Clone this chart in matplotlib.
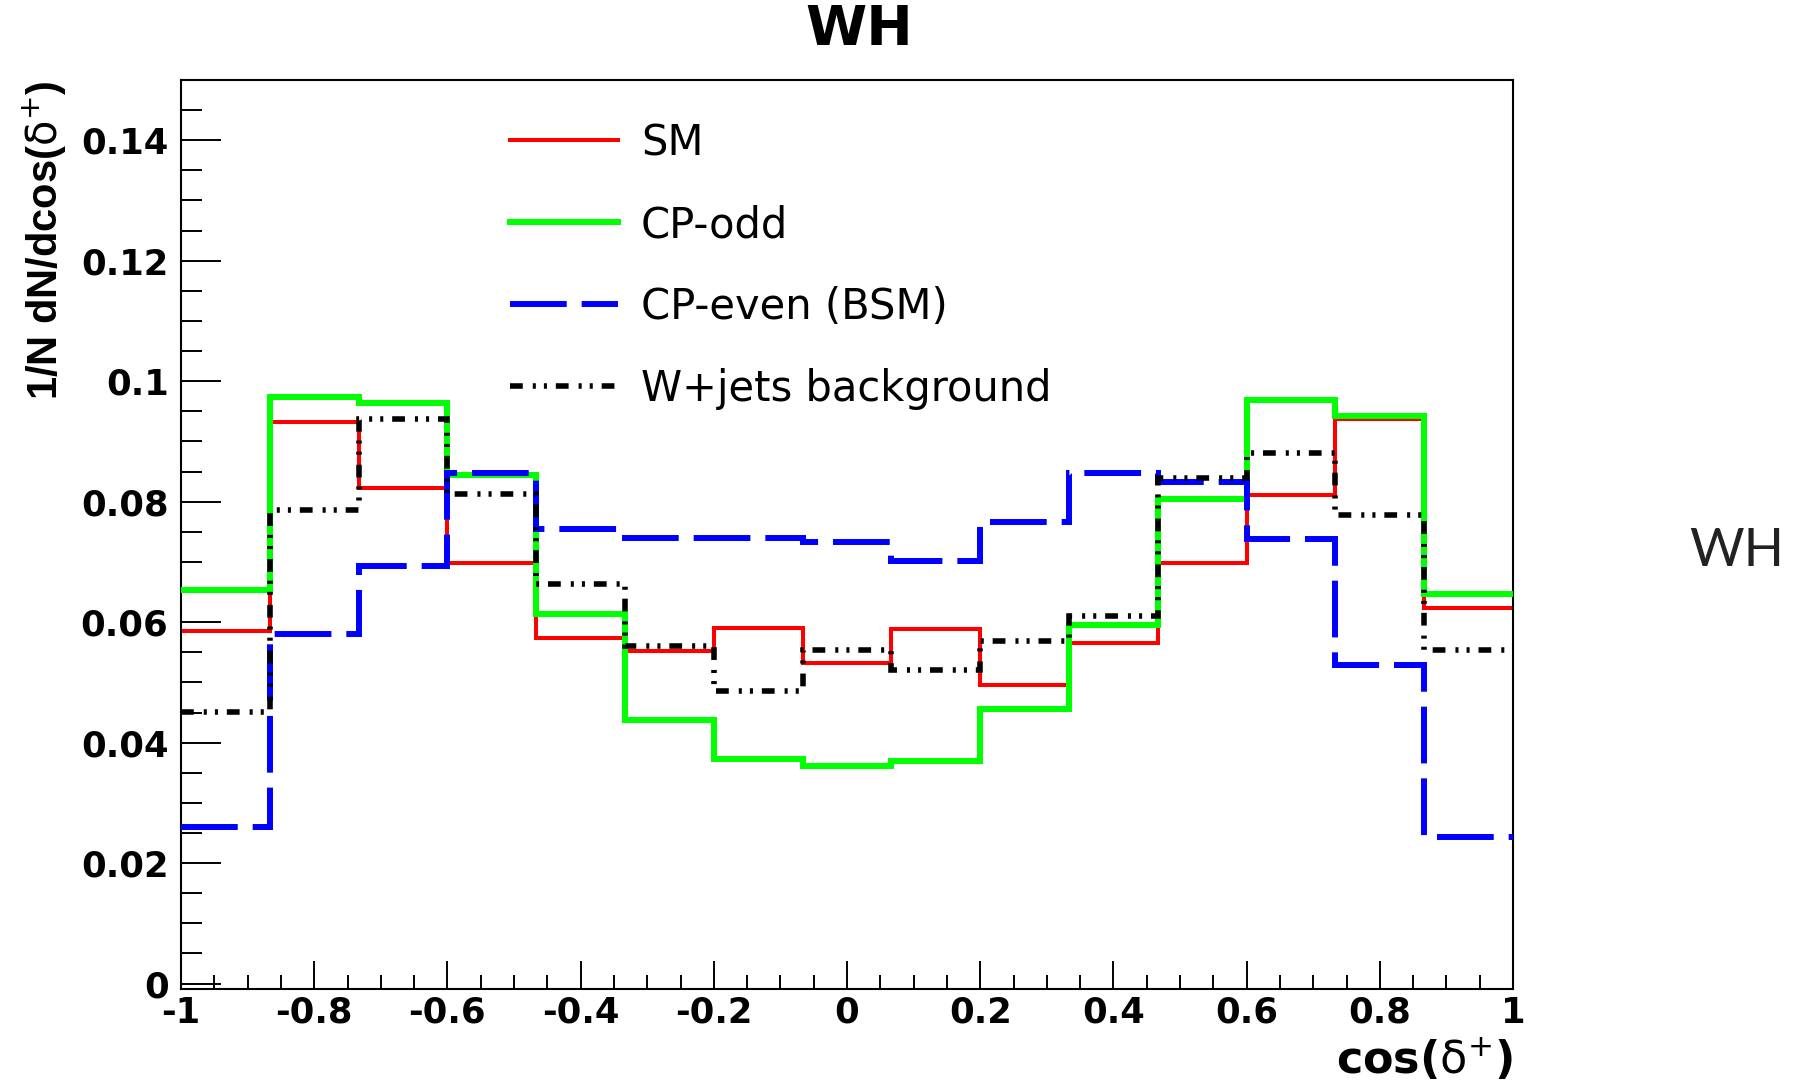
import matplotlib
matplotlib.use("Agg")
import matplotlib.pyplot as plt
import numpy as np
from matplotlib.ticker import MultipleLocator, FuncFormatter

plt.rcParams['font.family'] = ['DejaVu Sans']
plt.rcParams['mathtext.fontset'] = 'custom'
plt.rcParams['mathtext.rm'] = 'DejaVu Sans'
plt.rcParams['mathtext.bf'] = 'DejaVu Sans:bold'

# 15 bins in cos(delta+) from -1 to 1
edges = np.linspace(-1, 1, 16)

sm = [0.0585, 0.0932, 0.0823, 0.0699, 0.0573, 0.0552, 0.0590, 0.0532,
      0.0589, 0.0495, 0.0566, 0.0699, 0.0811, 0.0938, 0.0623]
cp_odd = [0.0654, 0.0973, 0.0964, 0.0845, 0.0614, 0.0438, 0.0373, 0.0362,
          0.0369, 0.0456, 0.0595, 0.0804, 0.0969, 0.0942, 0.0647]
cp_even = [0.0260, 0.0581, 0.0694, 0.0848, 0.0754, 0.0740, 0.0740, 0.0733,
           0.0701, 0.0766, 0.0847, 0.0833, 0.0738, 0.0529, 0.0244]
wjets = [0.0451, 0.0787, 0.0938, 0.0812, 0.0664, 0.0561, 0.0485, 0.0553,
         0.0521, 0.0568, 0.0610, 0.0840, 0.0881, 0.0778, 0.0553]

labels = ['SM', 'CP-odd', 'CP-even (BSM)', 'W+jets background']

fig = plt.figure(figsize=(18.05, 10.86), dpi=100)
ax = fig.add_axes([181 / 1805, 1 - 989 / 1086, 1332 / 1805, 909 / 1086])

ax.stairs(sm, edges, baseline=None, color='#ff0000', lw=2.9, zorder=2, label=labels[0])
ax.stairs(cp_odd, edges, baseline=None, color='#00ff00', lw=4.3, zorder=3, label=labels[1])
ax.stairs(cp_even, edges, baseline=None, color='#0000ff', lw=4.3, zorder=4,
          linestyle=(0, (9.5, 2.5)), label=labels[2])
ax.stairs(wjets, edges, baseline=None, color='black', lw=4.0, zorder=5,
          linestyle=(0, (2.3, 1.8, 0.55, 1.45, 0.55, 1.6)), label=labels[3])

ax.set_xlim(-1, 1)
ax.set_ylim(-0.0009, 0.15)

ax.xaxis.set_major_locator(MultipleLocator(0.2))
ax.xaxis.set_minor_locator(MultipleLocator(0.05))
ax.yaxis.set_major_locator(MultipleLocator(0.02))
ax.yaxis.set_minor_locator(MultipleLocator(0.005))

fmt = FuncFormatter(lambda v, p: '%g' % round(v, 3) if abs(v) > 1e-9 else '0')
ax.xaxis.set_major_formatter(fmt)
ax.yaxis.set_major_formatter(fmt)

ax.tick_params(which='both', direction='in', top=False, right=False, width=1.4)
ax.tick_params(axis='x', which='major', length=20, pad=5, labelsize=25.5)
ax.tick_params(axis='x', which='minor', length=10)
ax.tick_params(axis='y', which='major', length=29, pad=9, labelsize=25.5)
ax.tick_params(axis='y', which='minor', length=15)
for lab in ax.get_xticklabels() + ax.get_yticklabels():
    lab.set_fontweight('bold')
for s in ax.spines.values():
    s.set_linewidth(1.5)

ax.set_xlabel(r'cos($\mathrm{\delta}^{+}$)', fontsize=32, fontweight='bold', loc='right')
ax.xaxis.set_label_coords(1.0, -0.052)
ax.set_ylabel(r'1/N dN/dcos($\mathrm{\delta}^{+}$)', fontsize=30, fontweight='bold',
              loc='top', family='Liberation Sans')
ax.yaxis.set_label_coords(-0.085, 1.0)

leg = ax.legend(loc='upper left', bbox_to_anchor=(510 / 1805, 1 - 122 / 1086),
                bbox_transform=fig.transFigure, frameon=False, fontsize=30,
                handlelength=2.59, handletextpad=0.55, labelspacing=0.96,
                borderpad=0, borderaxespad=0)

fig.text(859 / 1805, 1 - 30 / 1086, 'WH', fontsize=40, fontweight='bold',
         ha='center', va='center')
fig.text(1737 / 1805, 1 - 551 / 1086, 'WH', fontsize=38, family='Lato',
         fontweight='normal', color='#222222', ha='center', va='center')

fig.savefig('out.png', dpi=100)
